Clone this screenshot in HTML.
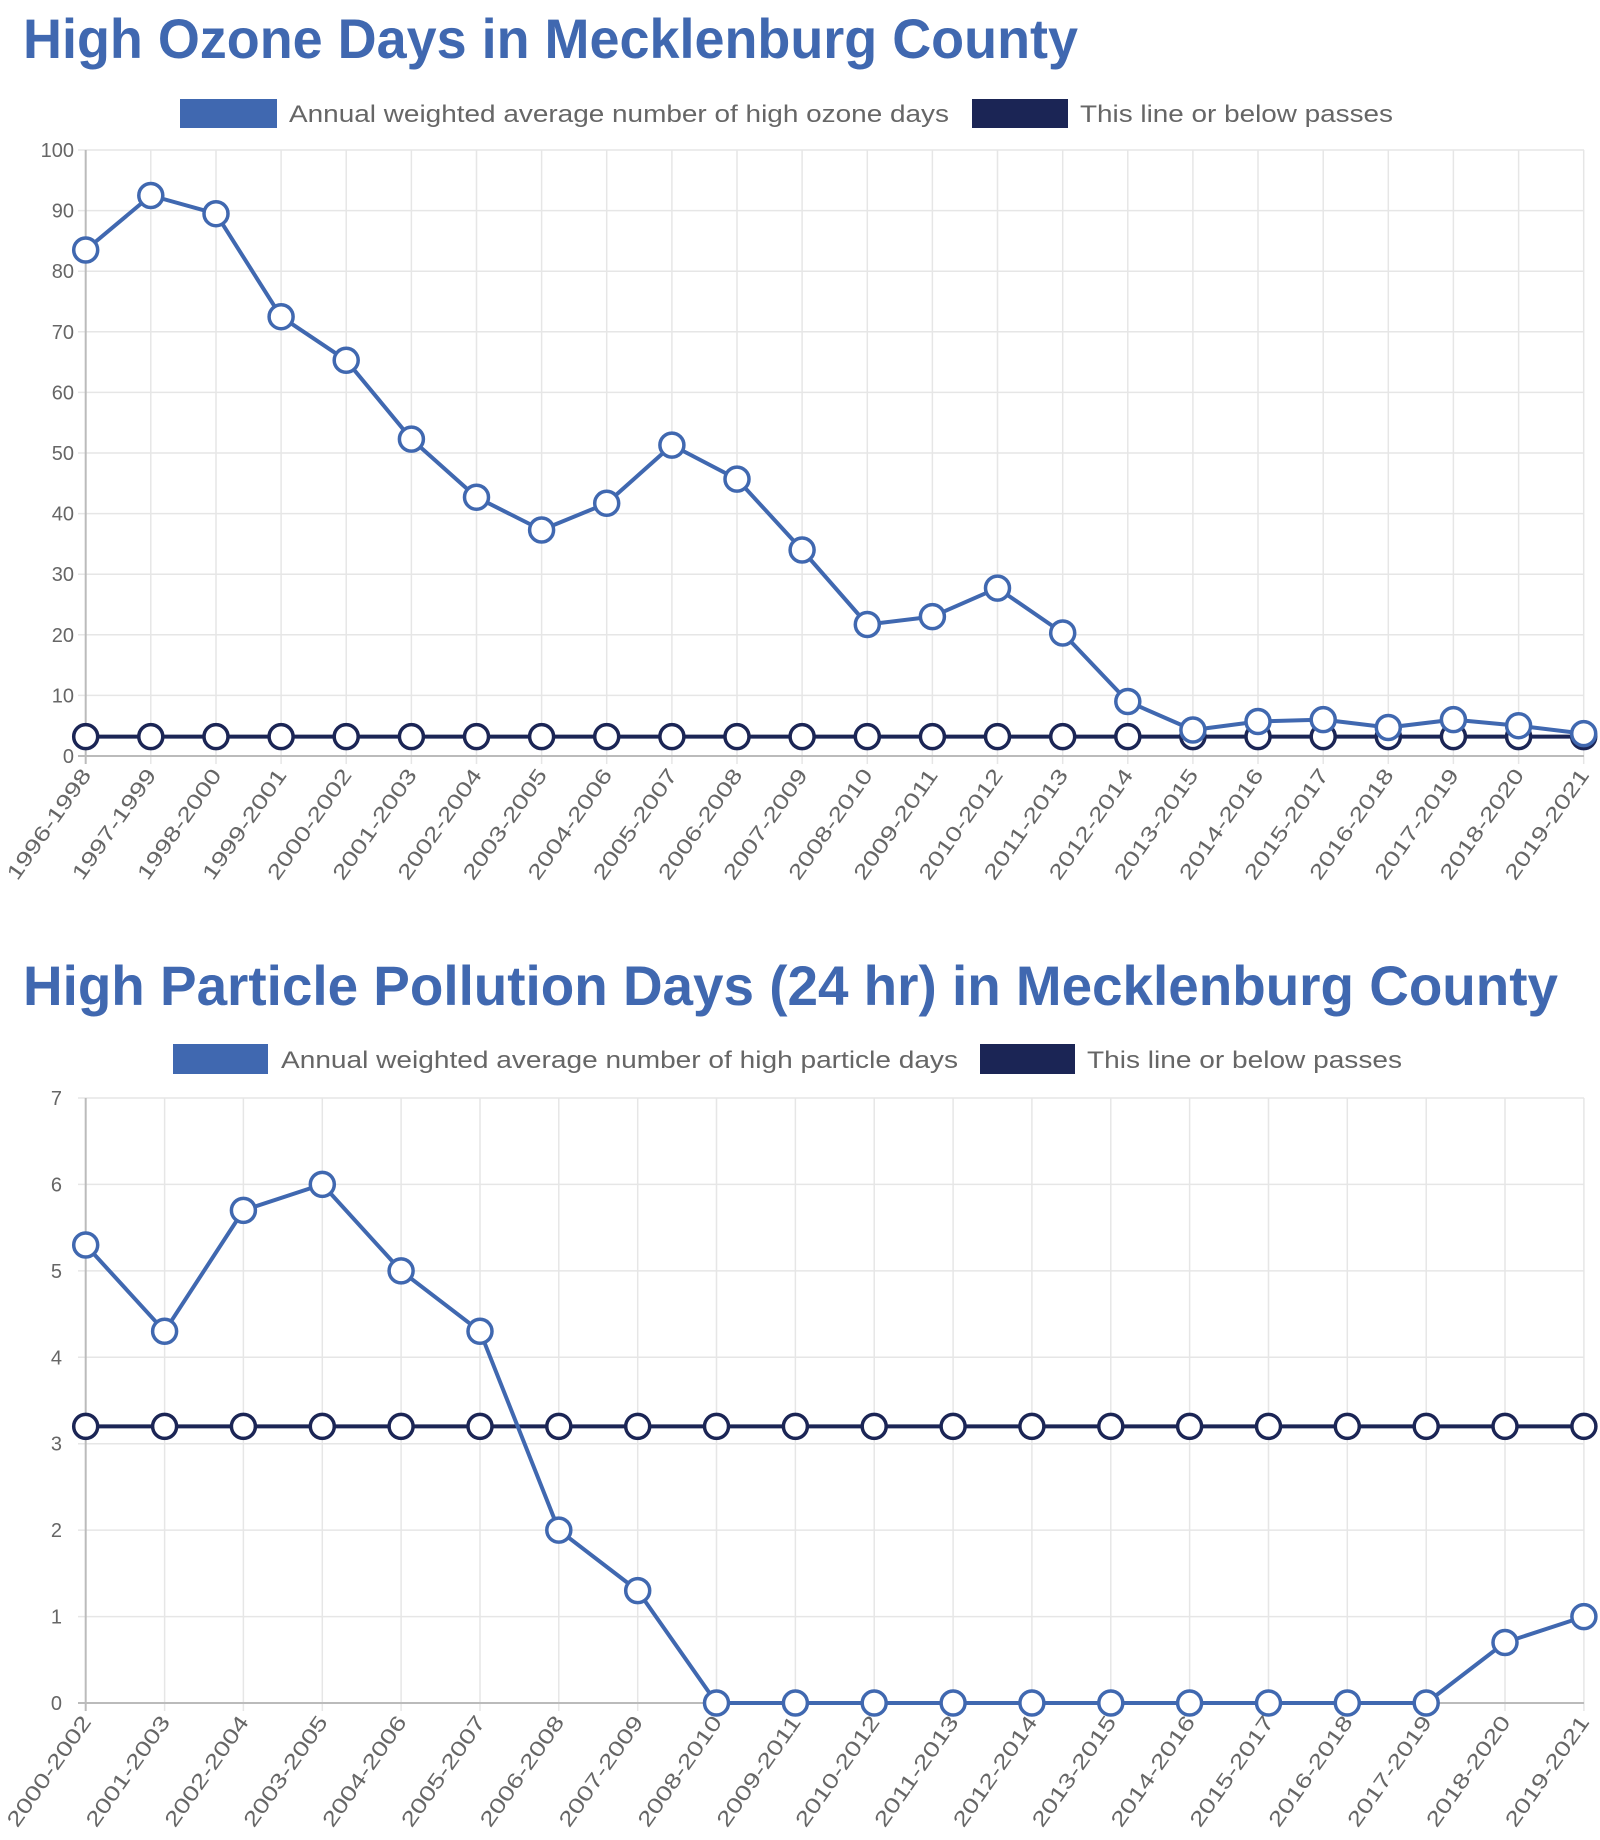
<!DOCTYPE html>
<html><head><meta charset="utf-8"><style>
html,body{margin:0;padding:0;background:#fff;}
svg{display:block;font-family:"Liberation Sans",sans-serif;}
.t{font-family:"Liberation Sans",sans-serif;font-weight:bold;fill:#4068b0;font-size:56px;}
.lg{fill:#666;font-size:24px;}
.yl{fill:#666;font-size:20px;text-anchor:end;}
.xl{fill:#666;font-size:21px;text-anchor:end;}
.g{stroke:#e6e6e6;stroke-width:1.5;}
.ax{stroke:#bbb;stroke-width:2;}
.b{fill:none;stroke:#4068b0;stroke-width:4;stroke-linejoin:round;}
.n{fill:none;stroke:#1b2555;stroke-width:4;}
.cb circle{fill:#fff;stroke:#4068b0;stroke-width:3.5;}
.cn circle{fill:#fff;stroke:#1b2555;stroke-width:3.5;}
</style></head><body>
<svg width="1600" height="1840" viewBox="0 0 1600 1840" xmlns="http://www.w3.org/2000/svg">
<!-- Chart 1 -->
<text class="t" x="23" y="58" textLength="1055" lengthAdjust="spacingAndGlyphs">High Ozone Days in Mecklenburg County</text>
<rect x="180" y="99" width="97" height="29" fill="#4068b0"/>
<text class="lg" x="289" y="122" textLength="660" lengthAdjust="spacingAndGlyphs">Annual weighted average number of high ozone days</text>
<rect x="972" y="99" width="96" height="29" fill="#1b2555"/>
<text class="lg" x="1080" y="122" textLength="313" lengthAdjust="spacingAndGlyphs">This line or below passes</text>
<g class="g">
<line x1="78" x2="1584" y1="150" y2="150"/><line x1="78" x2="1584" y1="210.6" y2="210.6"/><line x1="78" x2="1584" y1="271.2" y2="271.2"/><line x1="78" x2="1584" y1="331.8" y2="331.8"/><line x1="78" x2="1584" y1="392.4" y2="392.4"/><line x1="78" x2="1584" y1="453" y2="453"/><line x1="78" x2="1584" y1="513.6" y2="513.6"/><line x1="78" x2="1584" y1="574.2" y2="574.2"/><line x1="78" x2="1584" y1="634.8" y2="634.8"/><line x1="78" x2="1584" y1="695.4" y2="695.4"/>
<line x1="150.8" x2="150.8" y1="150" y2="764"/><line x1="216" x2="216" y1="150" y2="764"/><line x1="281.1" x2="281.1" y1="150" y2="764"/><line x1="346.2" x2="346.2" y1="150" y2="764"/><line x1="411.4" x2="411.4" y1="150" y2="764"/><line x1="476.5" x2="476.5" y1="150" y2="764"/><line x1="541.6" x2="541.6" y1="150" y2="764"/><line x1="606.7" x2="606.7" y1="150" y2="764"/><line x1="671.9" x2="671.9" y1="150" y2="764"/><line x1="737" x2="737" y1="150" y2="764"/><line x1="802.1" x2="802.1" y1="150" y2="764"/><line x1="867.3" x2="867.3" y1="150" y2="764"/><line x1="932.4" x2="932.4" y1="150" y2="764"/><line x1="997.5" x2="997.5" y1="150" y2="764"/><line x1="1062.7" x2="1062.7" y1="150" y2="764"/><line x1="1127.8" x2="1127.8" y1="150" y2="764"/><line x1="1192.9" x2="1192.9" y1="150" y2="764"/><line x1="1258" x2="1258" y1="150" y2="764"/><line x1="1323.2" x2="1323.2" y1="150" y2="764"/><line x1="1388.3" x2="1388.3" y1="150" y2="764"/><line x1="1453.4" x2="1453.4" y1="150" y2="764"/><line x1="1518.6" x2="1518.6" y1="150" y2="764"/><line x1="1583.7" x2="1583.7" y1="150" y2="764"/>
</g>
<line class="ax" x1="85.7" x2="85.7" y1="150" y2="764"/>
<line class="ax" x1="78" x2="1584" y1="756" y2="756"/>
<g class="yl">
<text x="74" y="157">100</text><text x="74" y="217.6">90</text><text x="74" y="278.2">80</text><text x="74" y="338.8">70</text><text x="74" y="399.4">60</text><text x="74" y="460">50</text><text x="74" y="520.6">40</text><text x="74" y="581.2">30</text><text x="74" y="641.8">20</text><text x="74" y="702.4">10</text><text x="74" y="763">0</text>
</g>
<g class="xl">
<text textLength="130" lengthAdjust="spacingAndGlyphs" transform="translate(92,775) rotate(-55)">1996-1998</text><text textLength="130" lengthAdjust="spacingAndGlyphs" transform="translate(157.1,775) rotate(-55)">1997-1999</text><text textLength="130" lengthAdjust="spacingAndGlyphs" transform="translate(222.3,775) rotate(-55)">1998-2000</text><text textLength="130" lengthAdjust="spacingAndGlyphs" transform="translate(287.4,775) rotate(-55)">1999-2001</text><text textLength="130" lengthAdjust="spacingAndGlyphs" transform="translate(352.5,775) rotate(-55)">2000-2002</text><text textLength="130" lengthAdjust="spacingAndGlyphs" transform="translate(417.7,775) rotate(-55)">2001-2003</text><text textLength="130" lengthAdjust="spacingAndGlyphs" transform="translate(482.8,775) rotate(-55)">2002-2004</text><text textLength="130" lengthAdjust="spacingAndGlyphs" transform="translate(547.9,775) rotate(-55)">2003-2005</text><text textLength="130" lengthAdjust="spacingAndGlyphs" transform="translate(613,775) rotate(-55)">2004-2006</text><text textLength="130" lengthAdjust="spacingAndGlyphs" transform="translate(678.2,775) rotate(-55)">2005-2007</text><text textLength="130" lengthAdjust="spacingAndGlyphs" transform="translate(743.3,775) rotate(-55)">2006-2008</text><text textLength="130" lengthAdjust="spacingAndGlyphs" transform="translate(808.4,775) rotate(-55)">2007-2009</text><text textLength="130" lengthAdjust="spacingAndGlyphs" transform="translate(873.6,775) rotate(-55)">2008-2010</text><text textLength="130" lengthAdjust="spacingAndGlyphs" transform="translate(938.7,775) rotate(-55)">2009-2011</text><text textLength="130" lengthAdjust="spacingAndGlyphs" transform="translate(1003.8,775) rotate(-55)">2010-2012</text><text textLength="130" lengthAdjust="spacingAndGlyphs" transform="translate(1069,775) rotate(-55)">2011-2013</text><text textLength="130" lengthAdjust="spacingAndGlyphs" transform="translate(1134.1,775) rotate(-55)">2012-2014</text><text textLength="130" lengthAdjust="spacingAndGlyphs" transform="translate(1199.2,775) rotate(-55)">2013-2015</text><text textLength="130" lengthAdjust="spacingAndGlyphs" transform="translate(1264.3,775) rotate(-55)">2014-2016</text><text textLength="130" lengthAdjust="spacingAndGlyphs" transform="translate(1329.5,775) rotate(-55)">2015-2017</text><text textLength="130" lengthAdjust="spacingAndGlyphs" transform="translate(1394.6,775) rotate(-55)">2016-2018</text><text textLength="130" lengthAdjust="spacingAndGlyphs" transform="translate(1459.7,775) rotate(-55)">2017-2019</text><text textLength="130" lengthAdjust="spacingAndGlyphs" transform="translate(1524.9,775) rotate(-55)">2018-2020</text><text textLength="130" lengthAdjust="spacingAndGlyphs" transform="translate(1590,775) rotate(-55)">2019-2021</text>
</g>
<line class="n" x1="85.7" x2="1583.7" y1="736.6" y2="736.6"/>
<g class="cn">
<circle cx="85.7" cy="736.6" r="12"/><circle cx="150.8" cy="736.6" r="12"/><circle cx="216" cy="736.6" r="12"/><circle cx="281.1" cy="736.6" r="12"/><circle cx="346.2" cy="736.6" r="12"/><circle cx="411.4" cy="736.6" r="12"/><circle cx="476.5" cy="736.6" r="12"/><circle cx="541.6" cy="736.6" r="12"/><circle cx="606.7" cy="736.6" r="12"/><circle cx="671.9" cy="736.6" r="12"/><circle cx="737" cy="736.6" r="12"/><circle cx="802.1" cy="736.6" r="12"/><circle cx="867.3" cy="736.6" r="12"/><circle cx="932.4" cy="736.6" r="12"/><circle cx="997.5" cy="736.6" r="12"/><circle cx="1062.7" cy="736.6" r="12"/><circle cx="1127.8" cy="736.6" r="12"/><circle cx="1192.9" cy="736.6" r="12"/><circle cx="1258" cy="736.6" r="12"/><circle cx="1323.2" cy="736.6" r="12"/><circle cx="1388.3" cy="736.6" r="12"/><circle cx="1453.4" cy="736.6" r="12"/><circle cx="1518.6" cy="736.6" r="12"/><circle cx="1583.7" cy="736.6" r="12"/>
</g>
<polyline class="b" points="85.7,250 150.8,195.5 216,213.7 281.1,316.7 346.2,360.3 411.4,439.1 476.5,497.2 541.6,530 606.7,503.3 671.9,445.1 737,479.1 802.1,550 867.3,624.5 932.4,616.6 997.5,588.1 1062.7,633 1127.8,701.5 1192.9,730 1258,721.5 1323.2,719.6 1388.3,727.5 1453.4,719.6 1518.6,725.7 1583.7,733.6"/>
<g class="cb">
<circle cx="85.7" cy="250" r="12"/><circle cx="150.8" cy="195.5" r="12"/><circle cx="216" cy="213.7" r="12"/><circle cx="281.1" cy="316.7" r="12"/><circle cx="346.2" cy="360.3" r="12"/><circle cx="411.4" cy="439.1" r="12"/><circle cx="476.5" cy="497.2" r="12"/><circle cx="541.6" cy="530" r="12"/><circle cx="606.7" cy="503.3" r="12"/><circle cx="671.9" cy="445.1" r="12"/><circle cx="737" cy="479.1" r="12"/><circle cx="802.1" cy="550" r="12"/><circle cx="867.3" cy="624.5" r="12"/><circle cx="932.4" cy="616.6" r="12"/><circle cx="997.5" cy="588.1" r="12"/><circle cx="1062.7" cy="633" r="12"/><circle cx="1127.8" cy="701.5" r="12"/><circle cx="1192.9" cy="730" r="12"/><circle cx="1258" cy="721.5" r="12"/><circle cx="1323.2" cy="719.6" r="12"/><circle cx="1388.3" cy="727.5" r="12"/><circle cx="1453.4" cy="719.6" r="12"/><circle cx="1518.6" cy="725.7" r="12"/><circle cx="1583.7" cy="733.6" r="12"/>
</g>

<!-- Chart 2 -->
<text class="t" x="23" y="1005" textLength="1535" lengthAdjust="spacingAndGlyphs">High Particle Pollution Days (24 hr) in Mecklenburg County</text>
<rect x="173" y="1044" width="95" height="30" fill="#4068b0"/>
<text class="lg" x="281" y="1068" textLength="677" lengthAdjust="spacingAndGlyphs">Annual weighted average number of high particle days</text>
<rect x="980" y="1044" width="95" height="30" fill="#1b2555"/>
<text class="lg" x="1087" y="1068" textLength="315" lengthAdjust="spacingAndGlyphs">This line or below passes</text>
<g class="g">
<line x1="78" x2="1584" y1="1098" y2="1098"/><line x1="78" x2="1584" y1="1184.4" y2="1184.4"/><line x1="78" x2="1584" y1="1270.9" y2="1270.9"/><line x1="78" x2="1584" y1="1357.3" y2="1357.3"/><line x1="78" x2="1584" y1="1443.7" y2="1443.7"/><line x1="78" x2="1584" y1="1530.1" y2="1530.1"/><line x1="78" x2="1584" y1="1616.6" y2="1616.6"/>
<line x1="164.6" x2="164.6" y1="1098" y2="1711"/><line x1="243.4" x2="243.4" y1="1098" y2="1711"/><line x1="322.3" x2="322.3" y1="1098" y2="1711"/><line x1="401.1" x2="401.1" y1="1098" y2="1711"/><line x1="480" x2="480" y1="1098" y2="1711"/><line x1="558.8" x2="558.8" y1="1098" y2="1711"/><line x1="637.7" x2="637.7" y1="1098" y2="1711"/><line x1="716.5" x2="716.5" y1="1098" y2="1711"/><line x1="795.4" x2="795.4" y1="1098" y2="1711"/><line x1="874.2" x2="874.2" y1="1098" y2="1711"/><line x1="953.1" x2="953.1" y1="1098" y2="1711"/><line x1="1031.9" x2="1031.9" y1="1098" y2="1711"/><line x1="1110.8" x2="1110.8" y1="1098" y2="1711"/><line x1="1189.6" x2="1189.6" y1="1098" y2="1711"/><line x1="1268.5" x2="1268.5" y1="1098" y2="1711"/><line x1="1347.3" x2="1347.3" y1="1098" y2="1711"/><line x1="1426.2" x2="1426.2" y1="1098" y2="1711"/><line x1="1505" x2="1505" y1="1098" y2="1711"/><line x1="1583.9" x2="1583.9" y1="1098" y2="1711"/>
</g>
<line class="ax" x1="85.7" x2="85.7" y1="1098" y2="1711"/>
<line class="ax" x1="78" x2="1584" y1="1703" y2="1703"/>
<g class="yl">
<text x="62" y="1105">7</text><text x="62" y="1191.4">6</text><text x="62" y="1277.9">5</text><text x="62" y="1364.3">4</text><text x="62" y="1450.7">3</text><text x="62" y="1537.1">2</text><text x="62" y="1623.6">1</text><text x="62" y="1710">0</text>
</g>
<g class="xl">
<text textLength="130" lengthAdjust="spacingAndGlyphs" transform="translate(92,1722) rotate(-55)">2000-2002</text><text textLength="130" lengthAdjust="spacingAndGlyphs" transform="translate(170.9,1722) rotate(-55)">2001-2003</text><text textLength="130" lengthAdjust="spacingAndGlyphs" transform="translate(249.7,1722) rotate(-55)">2002-2004</text><text textLength="130" lengthAdjust="spacingAndGlyphs" transform="translate(328.6,1722) rotate(-55)">2003-2005</text><text textLength="130" lengthAdjust="spacingAndGlyphs" transform="translate(407.4,1722) rotate(-55)">2004-2006</text><text textLength="130" lengthAdjust="spacingAndGlyphs" transform="translate(486.3,1722) rotate(-55)">2005-2007</text><text textLength="130" lengthAdjust="spacingAndGlyphs" transform="translate(565.1,1722) rotate(-55)">2006-2008</text><text textLength="130" lengthAdjust="spacingAndGlyphs" transform="translate(644,1722) rotate(-55)">2007-2009</text><text textLength="130" lengthAdjust="spacingAndGlyphs" transform="translate(722.8,1722) rotate(-55)">2008-2010</text><text textLength="130" lengthAdjust="spacingAndGlyphs" transform="translate(801.7,1722) rotate(-55)">2009-2011</text><text textLength="130" lengthAdjust="spacingAndGlyphs" transform="translate(880.5,1722) rotate(-55)">2010-2012</text><text textLength="130" lengthAdjust="spacingAndGlyphs" transform="translate(959.4,1722) rotate(-55)">2011-2013</text><text textLength="130" lengthAdjust="spacingAndGlyphs" transform="translate(1038.2,1722) rotate(-55)">2012-2014</text><text textLength="130" lengthAdjust="spacingAndGlyphs" transform="translate(1117.1,1722) rotate(-55)">2013-2015</text><text textLength="130" lengthAdjust="spacingAndGlyphs" transform="translate(1195.9,1722) rotate(-55)">2014-2016</text><text textLength="130" lengthAdjust="spacingAndGlyphs" transform="translate(1274.8,1722) rotate(-55)">2015-2017</text><text textLength="130" lengthAdjust="spacingAndGlyphs" transform="translate(1353.6,1722) rotate(-55)">2016-2018</text><text textLength="130" lengthAdjust="spacingAndGlyphs" transform="translate(1432.5,1722) rotate(-55)">2017-2019</text><text textLength="130" lengthAdjust="spacingAndGlyphs" transform="translate(1511.3,1722) rotate(-55)">2018-2020</text><text textLength="130" lengthAdjust="spacingAndGlyphs" transform="translate(1590.2,1722) rotate(-55)">2019-2021</text>
</g>
<line class="n" x1="85.7" x2="1583.9" y1="1426.4" y2="1426.4"/>
<g class="cn">
<circle cx="85.7" cy="1426.4" r="12"/><circle cx="164.6" cy="1426.4" r="12"/><circle cx="243.4" cy="1426.4" r="12"/><circle cx="322.3" cy="1426.4" r="12"/><circle cx="401.1" cy="1426.4" r="12"/><circle cx="480" cy="1426.4" r="12"/><circle cx="558.8" cy="1426.4" r="12"/><circle cx="637.7" cy="1426.4" r="12"/><circle cx="716.5" cy="1426.4" r="12"/><circle cx="795.4" cy="1426.4" r="12"/><circle cx="874.2" cy="1426.4" r="12"/><circle cx="953.1" cy="1426.4" r="12"/><circle cx="1031.9" cy="1426.4" r="12"/><circle cx="1110.8" cy="1426.4" r="12"/><circle cx="1189.6" cy="1426.4" r="12"/><circle cx="1268.5" cy="1426.4" r="12"/><circle cx="1347.3" cy="1426.4" r="12"/><circle cx="1426.2" cy="1426.4" r="12"/><circle cx="1505" cy="1426.4" r="12"/><circle cx="1583.9" cy="1426.4" r="12"/>
</g>
<polyline class="b" points="85.7,1245 164.6,1331.3 243.4,1210.4 322.3,1184.4 401.1,1270.9 480,1331.3 558.8,1530.1 637.7,1590.6 716.5,1703 795.4,1703 874.2,1703 953.1,1703 1031.9,1703 1110.8,1703 1189.6,1703 1268.5,1703 1347.3,1703 1426.2,1703 1505,1642.5 1583.9,1616.6"/>
<g class="cb">
<circle cx="85.7" cy="1245" r="12"/><circle cx="164.6" cy="1331.3" r="12"/><circle cx="243.4" cy="1210.4" r="12"/><circle cx="322.3" cy="1184.4" r="12"/><circle cx="401.1" cy="1270.9" r="12"/><circle cx="480" cy="1331.3" r="12"/><circle cx="558.8" cy="1530.1" r="12"/><circle cx="637.7" cy="1590.6" r="12"/><circle cx="716.5" cy="1703" r="12"/><circle cx="795.4" cy="1703" r="12"/><circle cx="874.2" cy="1703" r="12"/><circle cx="953.1" cy="1703" r="12"/><circle cx="1031.9" cy="1703" r="12"/><circle cx="1110.8" cy="1703" r="12"/><circle cx="1189.6" cy="1703" r="12"/><circle cx="1268.5" cy="1703" r="12"/><circle cx="1347.3" cy="1703" r="12"/><circle cx="1426.2" cy="1703" r="12"/><circle cx="1505" cy="1642.5" r="12"/><circle cx="1583.9" cy="1616.6" r="12"/>
</g>
</svg>
</body></html>
